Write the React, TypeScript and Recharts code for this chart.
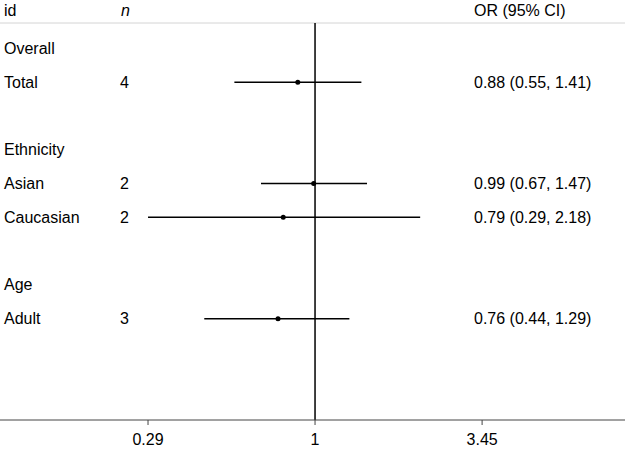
// Forest plot — OR (95% CI) by subgroup, log-scaled x axis (Recharts)
import {
  ScatterChart, Scatter, XAxis, YAxis, ErrorBar, ReferenceLine, Customized,
} from 'recharts';

const labels = ['Overall', 'Total', 'Ethnicity', 'Asian', 'Caucasian', 'Age', 'Adult'];
const rowPos = [1, 2, 4, 5, 6, 8, 9];
const counts: Array<number | null> = [null, 4, null, 2, 2, null, 3];
const oddsRatio: Array<number | null> = [null, 0.88, null, 0.99, 0.79, null, 0.76];
const ciLow: Array<number | null> = [null, 0.55, null, 0.67, 0.29, null, 0.44];
const ciHigh: Array<number | null> = [null, 1.41, null, 1.47, 2.18, null, 1.29];
const xTicks = [0.29, 1, 3.45];

const FONT = '"Liberation Sans", Arial, Helvetica, sans-serif';
const FS = 16;

const fmt = (v: number) => v.toFixed(2);

const points = rowPos
  .map((row, i) => ({
    row,
    or: oddsRatio[i],
    err: oddsRatio[i] == null ? null : [oddsRatio[i]! - ciLow[i]!, ciHigh[i]! - oddsRatio[i]!],
  }))
  .filter(d => d.or != null);

function renderRowTick(props: any) {
  const { y, payload } = props;
  const i = rowPos.indexOf(payload.value);
  if (i < 0) return <g />;
  const or = oddsRatio[i];
  return (
    <g fontFamily={FONT} fontSize={FS} fill="#000">
      <text x={4} y={y} dy="0.35em" textAnchor="start">{labels[i]}</text>
      {counts[i] != null && <text x={120} y={y} dy="0.35em" textAnchor="start">{counts[i]}</text>}
      {or != null && (
        <text x={474} y={y} dy="0.35em" textAnchor="start">
          {`${fmt(or)} (${fmt(ciLow[i]!)}, ${fmt(ciHigh[i]!)})`}
        </text>
      )}
    </g>
  );
}

function Header() {
  return (
    <g fontFamily={FONT} fontSize={FS} fill="#000">
      <text x={4} y={10} dy="0.35em">id</text>
      <text x={121} y={10} dy="0.35em" fontStyle="italic">n</text>
      <text x={474} y={10} dy="0.35em">OR (95% CI)</text>
    </g>
  );
}

const Dot = (props: any) => <circle cx={props.cx} cy={props.cy} r={2.5} fill="#000" />;

export default function App() {
  return (
    <div style={{ position: 'absolute', left: 0, top: 0, background: '#fff' }}>
      <ScatterChart width={625} height={449} margin={{ top: 23, right: 0, left: -1, bottom: 0 }}>
        <XAxis
          type="number"
          dataKey="or"
          scale="log"
          domain={[0.0968, 9.95]}
          allowDataOverflow
          ticks={xTicks}
          height={29}
          tickFormatter={(v) => String(v)}
          tick={{ fontSize: FS, fill: '#000', fontFamily: FONT }}
          tickSize={5}
          tickMargin={9}
          stroke="#444"
        />
        <YAxis
          type="number"
          dataKey="row"
          domain={[0.25, 12]}
          reversed
          allowDataOverflow
          ticks={rowPos}
          interval={0}
          width={1}
          axisLine={false}
          tickLine={false}
          tick={renderRowTick}
        />
        <ReferenceLine y={0.25} stroke="#d4d4d4" strokeWidth={1} />
        <ReferenceLine x={1} stroke="#000" strokeWidth={1.5} />
        <Scatter data={points} shape={<Dot />} isAnimationActive={false}>
          <ErrorBar dataKey="err" direction="x" width={0} stroke="#000" strokeWidth={1.5} isAnimationActive={false} />
        </Scatter>
        <Customized component={Header} />
      </ScatterChart>
    </div>
  );
}
